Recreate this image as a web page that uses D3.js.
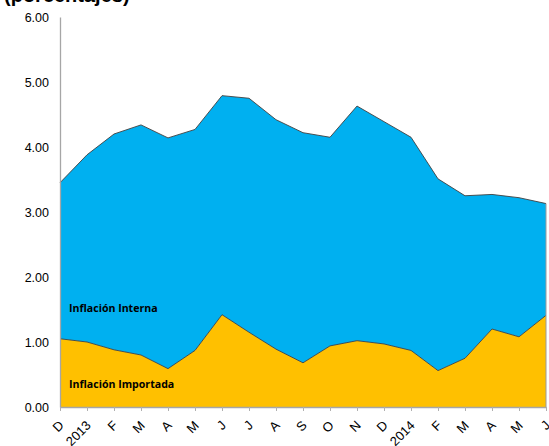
<!DOCTYPE html>
<html>
<head>
<meta charset="utf-8">
<script src="https://cdn.jsdelivr.net/npm/d3@7"></script>
<style>
  body { margin: 0; background: #fff; }
  svg { display: block; }
</style>
</head>
<body>
<div id="chart"></div>
<script>
// months from Dec 2012 to Jun 2014
var meses = ["D","2013","F","M","A","M","J","J","A","S","O","N","D","2014","F","M","A","M","J"]
var importada = [1.05,1.00,0.88,0.80,0.59,0.87,1.42,1.15,0.89,0.68,0.94,1.02,0.97,0.87,0.56,0.75,1.20,1.08,1.41]
var interna   = [2.40,2.88,3.32,3.54,3.55,3.40,3.37,3.60,3.53,3.54,3.21,3.61,3.42,3.28,2.95,2.50,2.07,2.14,1.72]
var yTicks = [0,1,2,3,4,5,6]

var width = 549
var height = 446
var margin = {left: 60, right: 3, top: 17, bottom: 39}

var rows = meses.map(function(m, i){
  return {i: i, mes: m, importada: importada[i], interna: interna[i]}
})

var svg = d3.select("#chart").append("svg")
  .attr("width", width)
  .attr("height", height)

var x = d3.scaleLinear()
  .domain([0, meses.length - 1])
  .range([margin.left, width - margin.right])

var y = d3.scaleLinear()
  .domain([0, 6])
  .range([height - margin.bottom, margin.top])

var stack = d3.stack().keys(["importada", "interna"])
var series = stack(rows)
var colors = {importada: "#FFC000", interna: "#00B0F0"}

var area = d3.area()
  .x(function(d){ return x(d.data.i) })
  .y0(function(d){ return y(d[0]) })
  .y1(function(d){ return y(d[1]) })

svg.selectAll(".capa")
  .data(series)
  .enter()
  .append("path")
  .attr("class", "capa")
  .attr("d", area)
  .style("fill", function(d){ return colors[d.key] })

// thin dark outline on top of each layer
var topLine = d3.line()
  .x(function(d){ return x(d.data.i) })
  .y(function(d){ return y(d[1]) })

svg.selectAll(".borde")
  .data(series)
  .enter()
  .append("path")
  .attr("class", "borde")
  .attr("d", topLine)
  .style("fill", "none")
  .style("stroke", "#404040")
  .style("stroke-width", 0.9)

svg.append("line")
  .attr("x1", x(meses.length - 1)).attr("x2", x(meses.length - 1))
  .attr("y1", y(0)).attr("y2", y(importada[18] + interna[18]))
  .style("stroke", "#9a9a9a").style("stroke-width", 1)

// y axis
var yAxis = d3.axisLeft(y)
  .tickValues(yTicks)
  .tickSize(0)
  .tickPadding(11)
  .tickFormat(d3.format(".2f"))

var gy = svg.append("g")
  .attr("transform", "translate(" + margin.left + ",0)")
  .call(yAxis)
gy.select(".domain").style("stroke", "#a6a6a6").style("stroke-width", 1.3)
gy.selectAll("text")
  .style("font-family", "Arial, 'Liberation Sans', sans-serif")
  .style("font-size", "12.5px")
  .style("fill", "#000")

// x axis
var xAxis = d3.axisBottom(x)
  .tickValues(d3.range(meses.length))
  .tickSize(4)
  .tickSizeOuter(0)
  .tickFormat(function(i){ return meses[i] })

var gx = svg.append("g")
  .attr("transform", "translate(0," + y(0) + ")")
  .call(xAxis)
gx.select(".domain").style("stroke", "#a6a6a6").style("stroke-width", 1.3)
gx.selectAll(".tick line").style("stroke", "#b0b0b0")
gx.selectAll("text")
  .style("font-family", "Arial, 'Liberation Sans', sans-serif")
  .style("font-size", "13px")
  .style("fill", "#000")
  .attr("x", 0)
  .attr("y", 0)
  .attr("dy", "0.35em")
  .attr("text-anchor", "end")
  .attr("transform", "translate(1,16) rotate(-45)")

// series labels
svg.append("text")
  .attr("x", 69).attr("y", 312)
  .text("Inflación Interna")
  .style("font-family", "'Open Sans', sans-serif")
  .style("font-weight", 700)
  .style("font-size", "10.6px")
  .style("fill", "#000")

svg.append("text")
  .attr("x", 69).attr("y", 388)
  .text("Inflación Importada")
  .style("font-family", "'Open Sans', sans-serif")
  .style("font-weight", 700)
  .style("font-size", "10.6px")
  .style("fill", "#000")

// title, partly cut off at the top
svg.append("text")
  .attr("x", 4).attr("y", 2)
  .text("(porcentajes)")
  .style("font-family", "Arial, 'Liberation Sans', sans-serif")
  .style("font-weight", "bold")
  .style("font-size", "20px")
  .style("fill", "#000")
</script>
</body>
</html>
